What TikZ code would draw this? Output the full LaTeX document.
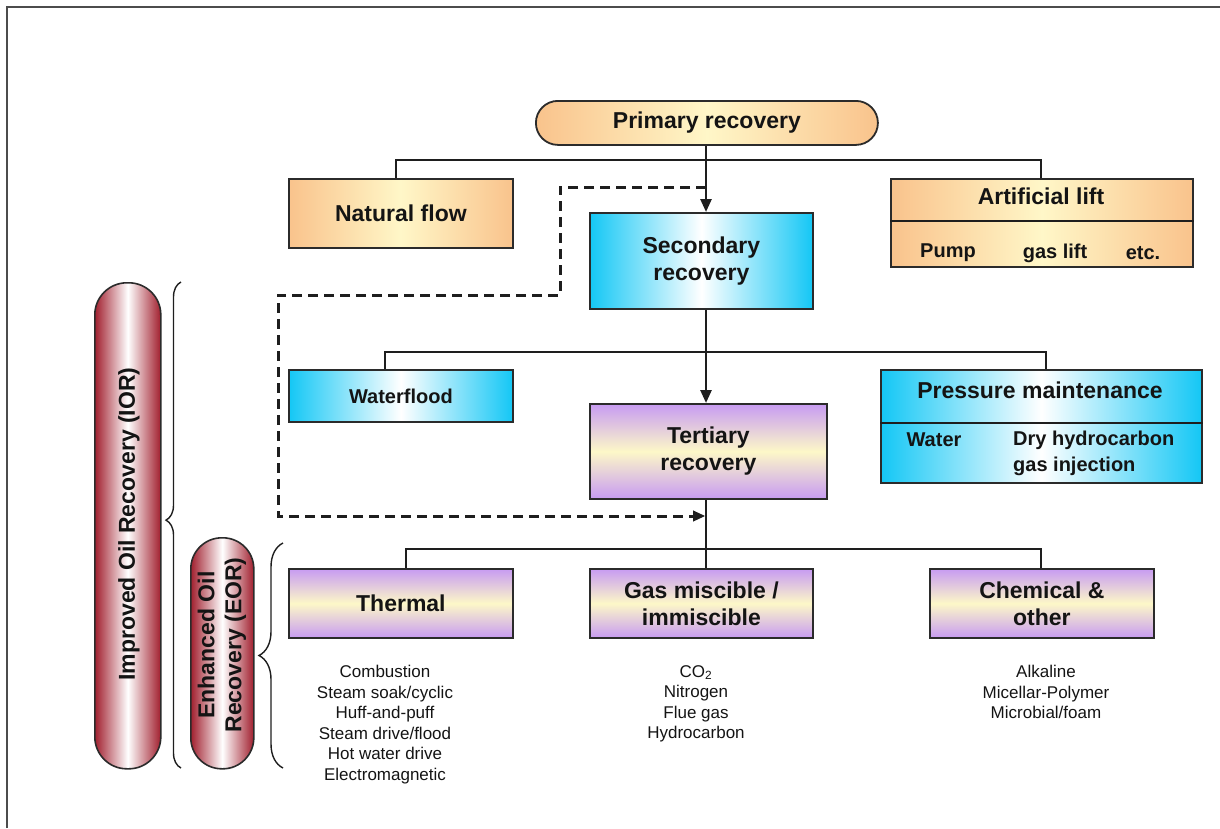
\documentclass[tikz,border=0pt]{standalone}
\usepackage{fontspec}
\setmainfont{Liberation Sans}
\usetikzlibrary{arrows.meta,decorations.pathreplacing}
\definecolor{orE}{HTML}{F9C38C}
\definecolor{orM}{HTML}{FFF7C8}
\definecolor{blE}{HTML}{14C7F5}
\definecolor{blM}{HTML}{FFFFFF}
\definecolor{puE}{HTML}{C79BF2}
\definecolor{puM}{HTML}{FDF8C8}
\definecolor{pillR}{HTML}{A11F2E}
\definecolor{edgec}{HTML}{2B2B2B}
\definecolor{linec}{HTML}{1E1E1E}
\definecolor{txt}{HTML}{141414}
\tikzset{
 box/.style={draw=edgec, line width=1.8pt, inner sep=0pt, anchor=north west},
 obox/.style={box, left color=orE, right color=orE, middle color=orM},
 bbox/.style={box, left color=blE, right color=blE, middle color=blM},
 pbox/.style={box, top color=puE, bottom color=puE, middle color=puM},
 big/.style={font=\bfseries\fontsize{23}{27}\selectfont, align=center, text=txt, inner sep=0pt},
 mid/.style={font=\bfseries\fontsize{20}{26}\selectfont, align=left, text=txt, inner sep=0pt},
 small/.style={font=\fontsize{17}{20.6}\selectfont, align=center, inner sep=0pt, text=txt},
 conn/.style={draw=linec, line width=2.2pt},
 arr/.style={draw=linec, line width=2.6pt, -{Triangle[length=13pt,width=11pt]}},
 dashline/.style={draw=linec, line width=3pt, dash pattern=on 10pt off 6pt},
 pill/.style={draw=edgec, line width=1.6pt, left color=pillR, right color=pillR, middle color=white, inner sep=0pt, anchor=north west},
 bracedraw/.style={draw=linec, line width=1.4pt, decorate}
}
\begin{document}
\begin{tikzpicture}[x=1pt,y=-1pt]
\useasboundingbox (0,0) rectangle (1220,828);
% frame
\coordinate (fa) at (7,828); \coordinate (fb) at (7,7); \coordinate (fc) at (1220,7);
\draw[draw=black!70, line width=1.2pt] (fa) -- (fb) -- (fc);

% boxes
\node[obox, big, rounded corners=22pt, minimum width=342pt, minimum height=44pt] (pr) at (535,100) {Primary recovery};
\node[obox, big, minimum width=224pt, minimum height=69pt] (nf) at (288,178) {Natural flow};
\node[obox, minimum width=302pt, minimum height=88pt] (al) at (890,178) {};
\node[bbox, big, minimum width=223pt, minimum height=96pt] (sr) at (589,212) {Secondary\\recovery};
\node[bbox, mid, align=center, minimum width=224pt, minimum height=52pt] (wf) at (288,369) {Waterflood};
\node[bbox, minimum width=321pt, minimum height=113pt] (pm) at (880,369) {};
\node[pbox, big, minimum width=237pt, minimum height=95pt] (tr) at (589,403) {Tertiary\\recovery};
\node[pbox, big, minimum width=224pt, minimum height=69pt] (th) at (288,568) {Thermal};
\node[pbox, big, minimum width=223pt, minimum height=69pt] (gm) at (589,568) {Gas miscible /\\immiscible};
\node[pbox, big, minimum width=224pt, minimum height=69pt] (ch) at (929,568) {Chemical \&\\other};

% dividers
\draw[draw=linec, line width=2.6pt] ([yshift=-43pt]al.north west) -- ([yshift=-43pt]al.north east);
\draw[draw=linec, line width=2.6pt] ([yshift=-54pt]pm.north west) -- ([yshift=-54pt]pm.north east);

% box texts
\node[big] (alt) at (1041,196) {Artificial lift};
\node[mid] (al1) at (948,253) {Pump};
\node[mid] (al2) at (1055,253) {gas lift};
\node[mid] (al3) at (1143,253) {etc.};
\node[big] (pmt) at (1040,390) {Pressure maintenance};
\node[mid] (pm1) at (934,440) {Water};
\node[mid, anchor=west] (pm2) at (1013,453) {Dry hydrocarbon\\gas injection};

% lists
\node[small, anchor=north] (thl) at (385,665) {Combustion\\Steam soak/cyclic\\Huff-and-puff\\Steam drive/flood\\Hot water drive\\Electromagnetic};
\node[small, anchor=north] (gml) at (696,665) {CO\textsubscript{2}\\Nitrogen\\Flue gas\\Hydrocarbon};
\node[small, anchor=north] (chl) at (1046,665) {Alkaline\\Micellar-Polymer\\Microbial/foam};

% pills
\node[pill, rounded corners=32pt, minimum width=66pt, minimum height=486pt] (iorp) at (94,282) {};
\node[big, rotate=90] (iort) at (129,524) {Improved Oil Recovery (IOR)};
\node[pill, rounded corners=31pt, minimum width=63pt, minimum height=231pt] (eorp) at (190,537) {};
\node[big, rotate=90] (eort) at (222,645) {Enhanced Oil\\Recovery (EOR)};

% braces
\coordinate (br1a) at (181,768); \coordinate (br1b) at (181,282);
\coordinate (br2a) at (283,768); \coordinate (br2b) at (283,543);
\draw[bracedraw, decoration={brace, amplitude=15pt, aspect=0.51}] (br1a) -- (br1b);
\draw[bracedraw, decoration={brace, amplitude=24pt, aspect=0.5}] (br2a) -- (br2b);

% connectors
\coordinate (sp) at (706,160);
\coordinate (b1L) at (396,160); \coordinate (b1R) at (1041,160);
\draw[conn] (b1L |- nf.north) -- (b1L) -- (b1R) -- (b1R |- al.north);
\draw[arr] (pr.south -| sp) -- (sp |- sr.north);

\coordinate (b2L) at (385,352); \coordinate (b2R) at (1046,352);
\draw[conn] (b2L |- wf.north) -- (b2L) -- (b2R) -- (b2R |- pm.north);
\draw[arr] (sp |- sr.south) -- (sp |- tr.north);

\coordinate (b3L) at (406,549); \coordinate (b3R) at (1041,549);
\draw[draw=linec, line width=2.6pt] (sp |- tr.south) -- (sp |- gm.north);
\draw[conn] (b3L |- th.north) -- (b3L) -- (b3R) -- (b3R |- ch.north);

% dashed bypass
\coordinate (d1) at (706,187); \coordinate (d2) at (560,187);
\coordinate (d3) at (560,295); \coordinate (d4) at (278,295);
\coordinate (d5) at (278,516); \coordinate (d6) at (705,516);
\draw[dashline] (d1) -- (d2) -- (d3) -- (d4) -- (d5) -- (d6);
\draw[arr, line width=1pt, -{Triangle[length=12pt,width=11pt]}] ([xshift=-4pt]d6) -- (d6);
\end{tikzpicture}
\end{document}
